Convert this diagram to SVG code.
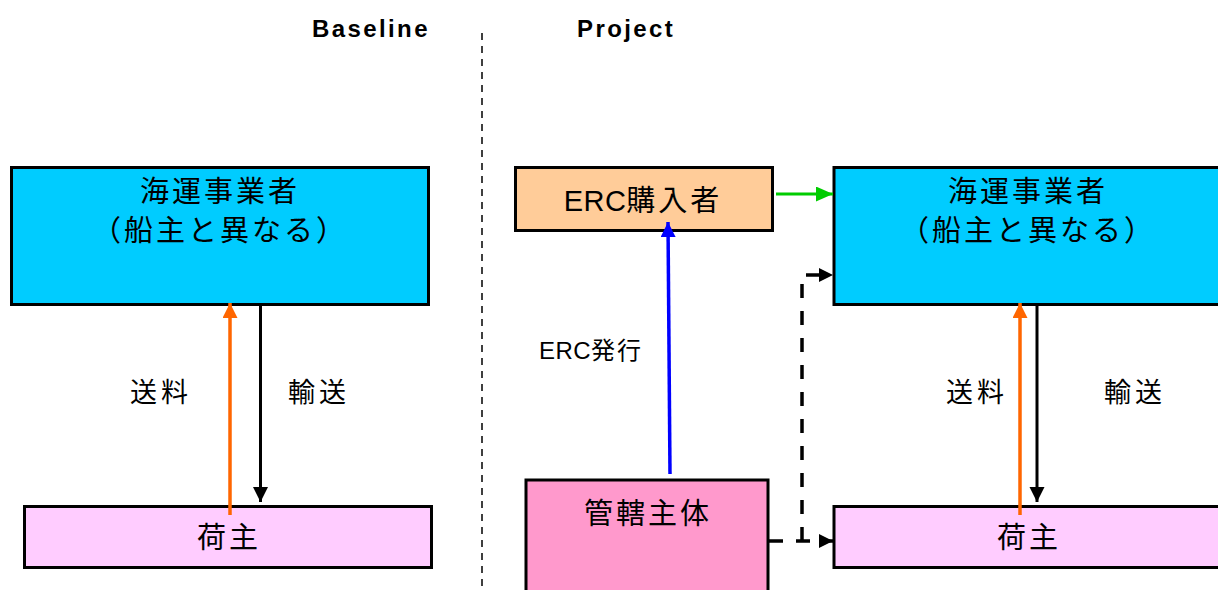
<svg xmlns="http://www.w3.org/2000/svg" width="1218" height="590" viewBox="0 0 1218 590">
  <style>
    .box { stroke: #000; stroke-width: 3; }
    .jp { font-family: "Liberation Sans", "Noto Sans CJK JP", sans-serif; font-size: 29px; fill: #000; text-anchor: middle; letter-spacing: 3px; }
    .lbl { font-family: "Liberation Sans", "Noto Sans CJK JP", sans-serif; font-size: 27px; fill: #000; text-anchor: middle; letter-spacing: 4px; }
    .head { font-family: "Liberation Sans", Arial, sans-serif; font-size: 24px; font-weight: bold; fill: #000; letter-spacing: 2.4px; }
    .latin { letter-spacing: 0.5px; }
    .carrier { fill: #00CCFF; }
    .shipper { fill: #FFCCFF; }
    .buyer { fill: #FFCC99; }
    .authority { fill: #FF99CC; }
  </style>
  <defs>
    <marker id="ahOrange" markerUnits="userSpaceOnUse" markerWidth="16" markerHeight="16" refX="15" refY="7.5" orient="auto">
      <path d="M0,0 L15,7.5 L0,15 Z" fill="#FF6600"/>
    </marker>
    <marker id="ahBlack" markerUnits="userSpaceOnUse" markerWidth="16" markerHeight="16" refX="15" refY="7.5" orient="auto">
      <path d="M0,0 L15,7.5 L0,15 Z" fill="#000"/>
    </marker>
    <marker id="ahGreen" markerUnits="userSpaceOnUse" markerWidth="18" markerHeight="16" refX="17" refY="7.5" orient="auto">
      <path d="M0,0 L17,7.5 L0,15 Z" fill="#00CC00"/>
    </marker>
    <marker id="ahBlue" markerUnits="userSpaceOnUse" markerWidth="16" markerHeight="16" refX="15" refY="7.5" orient="auto">
      <path d="M0,0 L15,7.5 L0,15 Z" fill="#0000FF"/>
    </marker>
    <marker id="ahDash" markerUnits="userSpaceOnUse" markerWidth="16" markerHeight="16" refX="14" refY="7" orient="auto">
      <path d="M0,0 L14,7 L0,14 Z" fill="#000"/>
    </marker>
  </defs>

  <rect width="1218" height="590" fill="#fff"/>

  <!-- section headings and divider -->
  <g id="headings">
    <text class="head" x="312" y="37">Baseline</text>
    <text class="head" x="577" y="37">Project</text>
    <line x1="482" y1="33" x2="482" y2="590" stroke="#000" stroke-width="1.5" stroke-dasharray="7,6"/>
  </g>

  <!-- baseline scenario -->
  <g id="baseline-carrier">
    <rect class="box carrier" x="11.5" y="167.5" width="417" height="137"/>
    <text class="jp" x="220" y="202">海運事業者</text>
    <text class="jp" x="220" y="241">（船主と異なる）</text>
  </g>
  <g id="baseline-shipper">
    <rect class="box shipper" x="24.5" y="506.5" width="407" height="61"/>
    <text class="jp" x="229" y="548">荷主</text>
  </g>

  <!-- project scenario -->
  <g id="erc-buyer">
    <rect class="box buyer" x="515.5" y="167.5" width="257" height="63"/>
    <text class="jp" x="643" y="211"><tspan class="latin">ERC</tspan>購入者</text>
  </g>
  <g id="project-carrier">
    <rect class="box carrier" x="834" y="167.5" width="420" height="137"/>
    <text class="jp" x="1028" y="202">海運事業者</text>
    <text class="jp" x="1028" y="241">（船主と異なる）</text>
  </g>
  <g id="authority">
    <rect class="box authority" x="526" y="480" width="242" height="130"/>
    <text class="jp" x="648" y="524">管轄主体</text>
  </g>
  <g id="project-shipper">
    <rect class="box shipper" x="834" y="506.5" width="420" height="61"/>
    <text class="jp" x="1029" y="548">荷主</text>
  </g>

  <!-- connectors -->
  <g id="connectors" fill="none">
    <line x1="230" y1="515" x2="230" y2="303" stroke="#FF6600" stroke-width="3.5" marker-end="url(#ahOrange)"/>
    <line x1="260.5" y1="305" x2="260.5" y2="502" stroke="#000" stroke-width="3" marker-end="url(#ahBlack)"/>
    <line x1="1020" y1="515" x2="1020" y2="303" stroke="#FF6600" stroke-width="3.5" marker-end="url(#ahOrange)"/>
    <line x1="1037" y1="305" x2="1037" y2="502" stroke="#000" stroke-width="3" marker-end="url(#ahBlack)"/>
    <line x1="670" y1="474" x2="668" y2="222" stroke="#0000FF" stroke-width="3.5" marker-end="url(#ahBlue)"/>
    <line x1="776" y1="194" x2="833" y2="194" stroke="#00CC00" stroke-width="3" marker-end="url(#ahGreen)"/>
    <path d="M769,541 H833" stroke="#000" stroke-width="3.5" stroke-dasharray="14,13" marker-end="url(#ahDash)"/>
    <path d="M802,541 V275 H833" stroke="#000" stroke-width="3.5" stroke-dasharray="14,13" marker-end="url(#ahDash)"/>
  </g>

  <!-- connector labels -->
  <g id="labels">
    <text class="lbl" x="161" y="402">送料</text>
    <text class="lbl" x="319" y="402">輸送</text>
    <text class="lbl" x="977" y="402">送料</text>
    <text class="lbl" x="1135" y="402">輸送</text>
    <text class="lbl" x="591" y="359" style="font-size:24px;letter-spacing:2px"><tspan class="latin">ERC</tspan>発行</text>
  </g>
</svg>
